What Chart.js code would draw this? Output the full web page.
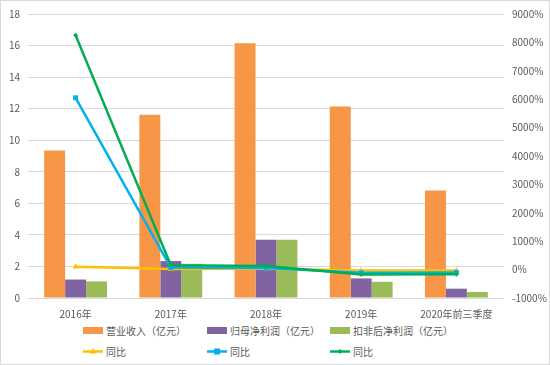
<!DOCTYPE html>
<html>
<head>
<meta charset="utf-8">
<script src="https://cdn.jsdelivr.net/npm/chart.js@4"></script>
<style>
    html, body { margin: 0; padding: 0; background: #fff; }
    #wrap {
        position: relative;
        width: 550px;
        height: 365px;
        box-sizing: border-box;
        border: 1px solid #d9d9d9;
        font-family: "Noto Sans CJK SC", "Noto Sans", sans-serif;
        color: #595959;
        overflow: hidden;
    }
    #chartBox { position: absolute; left: -1px; top: -1px; width: 550px; height: 322px; }
    .item {
        position: absolute;
        font-size: 10px;
        line-height: 14px;
        white-space: nowrap;
        display: flex;
        align-items: center;
    }
    .item svg { margin-right: 2px; }
</style>
</head>
<body>
<div id="wrap">
    <div id="chartBox"><canvas id="mainChart"></canvas></div>
    <div id="legend"></div>
</div>
<script>
const categories = ['2016年', '2017年', '2018年', '2019年', '2020年前三季度'];
const revenue = [9.35, 11.62, 16.15, 12.13, 6.82];
const netProfit = [1.17, 2.34, 3.69, 1.24, 0.59];
const deductedProfit = [1.05, 2.17, 3.69, 1.03, 0.38];
const revenueYoy = [100, 20, 30, -30, -30];
const netProfitYoy = [6050, 70, 60, -110, -100];
const deductedYoy = [8250, 150, 130, -170, -160];
const leftTicks = [0, 18, 2];
const rightTicks = [-1000, 9000, 1000];

const tickFont = { family: '"Noto Sans CJK SC", "Noto Sans", sans-serif', size: 10 };

function barSet(label, data, color) {
    return {
        type: 'bar', label: label, data: data, yAxisID: 'y',
        backgroundColor: color, borderWidth: 0, order: 3,
        categoryPercentage: 0.66, barPercentage: 1
    };
}

function lineSet(label, data, color, style, radius, order) {
    return {
        type: 'line', label: label, data: data, yAxisID: 'y1',
        borderColor: color, backgroundColor: color, borderWidth: 2.5,
        pointStyle: style, pointRadius: radius, pointBorderWidth: 0,
        tension: 0, order: order
    };
}

const datasets = [
    barSet('营业收入（亿元）', revenue, '#F79646'),
    barSet('归母净利润（亿元）', netProfit, '#8064A2'),
    barSet('扣非后净利润（亿元）', deductedProfit, '#9BBB59'),
    lineSet('同比', revenueYoy, '#FFC000', 'triangle', 3.5, 2),
    lineSet('同比', netProfitYoy, '#00B0F0', 'rect', 3.5, 1),
    lineSet('同比', deductedYoy, '#00B050', 'rectRot', 2.5, 0)
];

const ctx = document.getElementById('mainChart').getContext('2d');
const mainChart = new Chart(ctx, {
    data: { labels: categories, datasets: datasets },
    options: {
        responsive: true,
        maintainAspectRatio: false,
        animation: false,
        layout: { padding: { top: 5, left: 0, right: 0, bottom: 0 } },
        plugins: { legend: { display: false }, tooltip: { enabled: false } },
        scales: {
            x: {
                grid: { display: false },
                border: { display: false },
                ticks: { color: '#595959', font: tickFont, padding: 2, maxRotation: 0 }
            },
            y: {
                position: 'left',
                min: leftTicks[0], max: leftTicks[1],
                afterFit: function (s) { s.width = 28; },
                grid: { color: '#d9d9d9', lineWidth: 1, drawTicks: false },
                border: { display: false },
                ticks: { stepSize: leftTicks[2], color: '#595959', font: tickFont, padding: 8 }
            },
            y1: {
                position: 'right',
                min: rightTicks[0], max: rightTicks[1],
                afterFit: function (s) { s.width = 46; },
                grid: { display: false, drawTicks: false },
                border: { display: false },
                ticks: {
                    stepSize: rightTicks[2], color: '#595959', font: tickFont, padding: 8,
                    callback: function (v) { return v + '%'; }
                }
            }
        }
    }
});

// legend laid out in three columns like the original
const legendItems = [
    { text: '营业收入（亿元）', color: '#F79646', kind: 'box', x: 83, y: 323 },
    { text: '归母净利润（亿元）', color: '#8064A2', kind: 'box', x: 207, y: 323 },
    { text: '扣非后净利润（亿元）', color: '#9BBB59', kind: 'box', x: 330, y: 323 },
    { text: '同比', color: '#FFC000', kind: 'tri', x: 83, y: 344 },
    { text: '同比', color: '#00B0F0', kind: 'rect', x: 207, y: 344 },
    { text: '同比', color: '#00B050', kind: 'dia', x: 330, y: 344 }
];

function swatch(it) {
    let inner;
    if (it.kind === 'box') {
        inner = '<rect x="0" y="4" width="20" height="7" fill="' + it.color + '"/>';
    } else {
        inner = '<line x1="0" y1="7.5" x2="20" y2="7.5" stroke="' + it.color + '" stroke-width="2.5"/>';
        if (it.kind === 'tri') inner += '<polygon points="10,4 13.5,9.5 6.5,9.5" fill="' + it.color + '"/>';
        if (it.kind === 'rect') inner += '<rect x="7" y="4.5" width="6" height="6" fill="' + it.color + '"/>';
        if (it.kind === 'dia') inner += '<polygon points="10,5 12.5,7.5 10,10 7.5,7.5" fill="' + it.color + '"/>';
    }
    return '<svg width="21" height="15">' + inner + '</svg>';
}

const legend = document.getElementById('legend');
legendItems.forEach(function (it) {
    const d = document.createElement('div');
    d.className = 'item';
    d.style.left = (it.x - 1) + 'px';
    d.style.top = (it.y - 1) + 'px';
    d.innerHTML = swatch(it) + '<span>' + it.text + '</span>';
    legend.appendChild(d);
});
</script>
</body>
</html>
